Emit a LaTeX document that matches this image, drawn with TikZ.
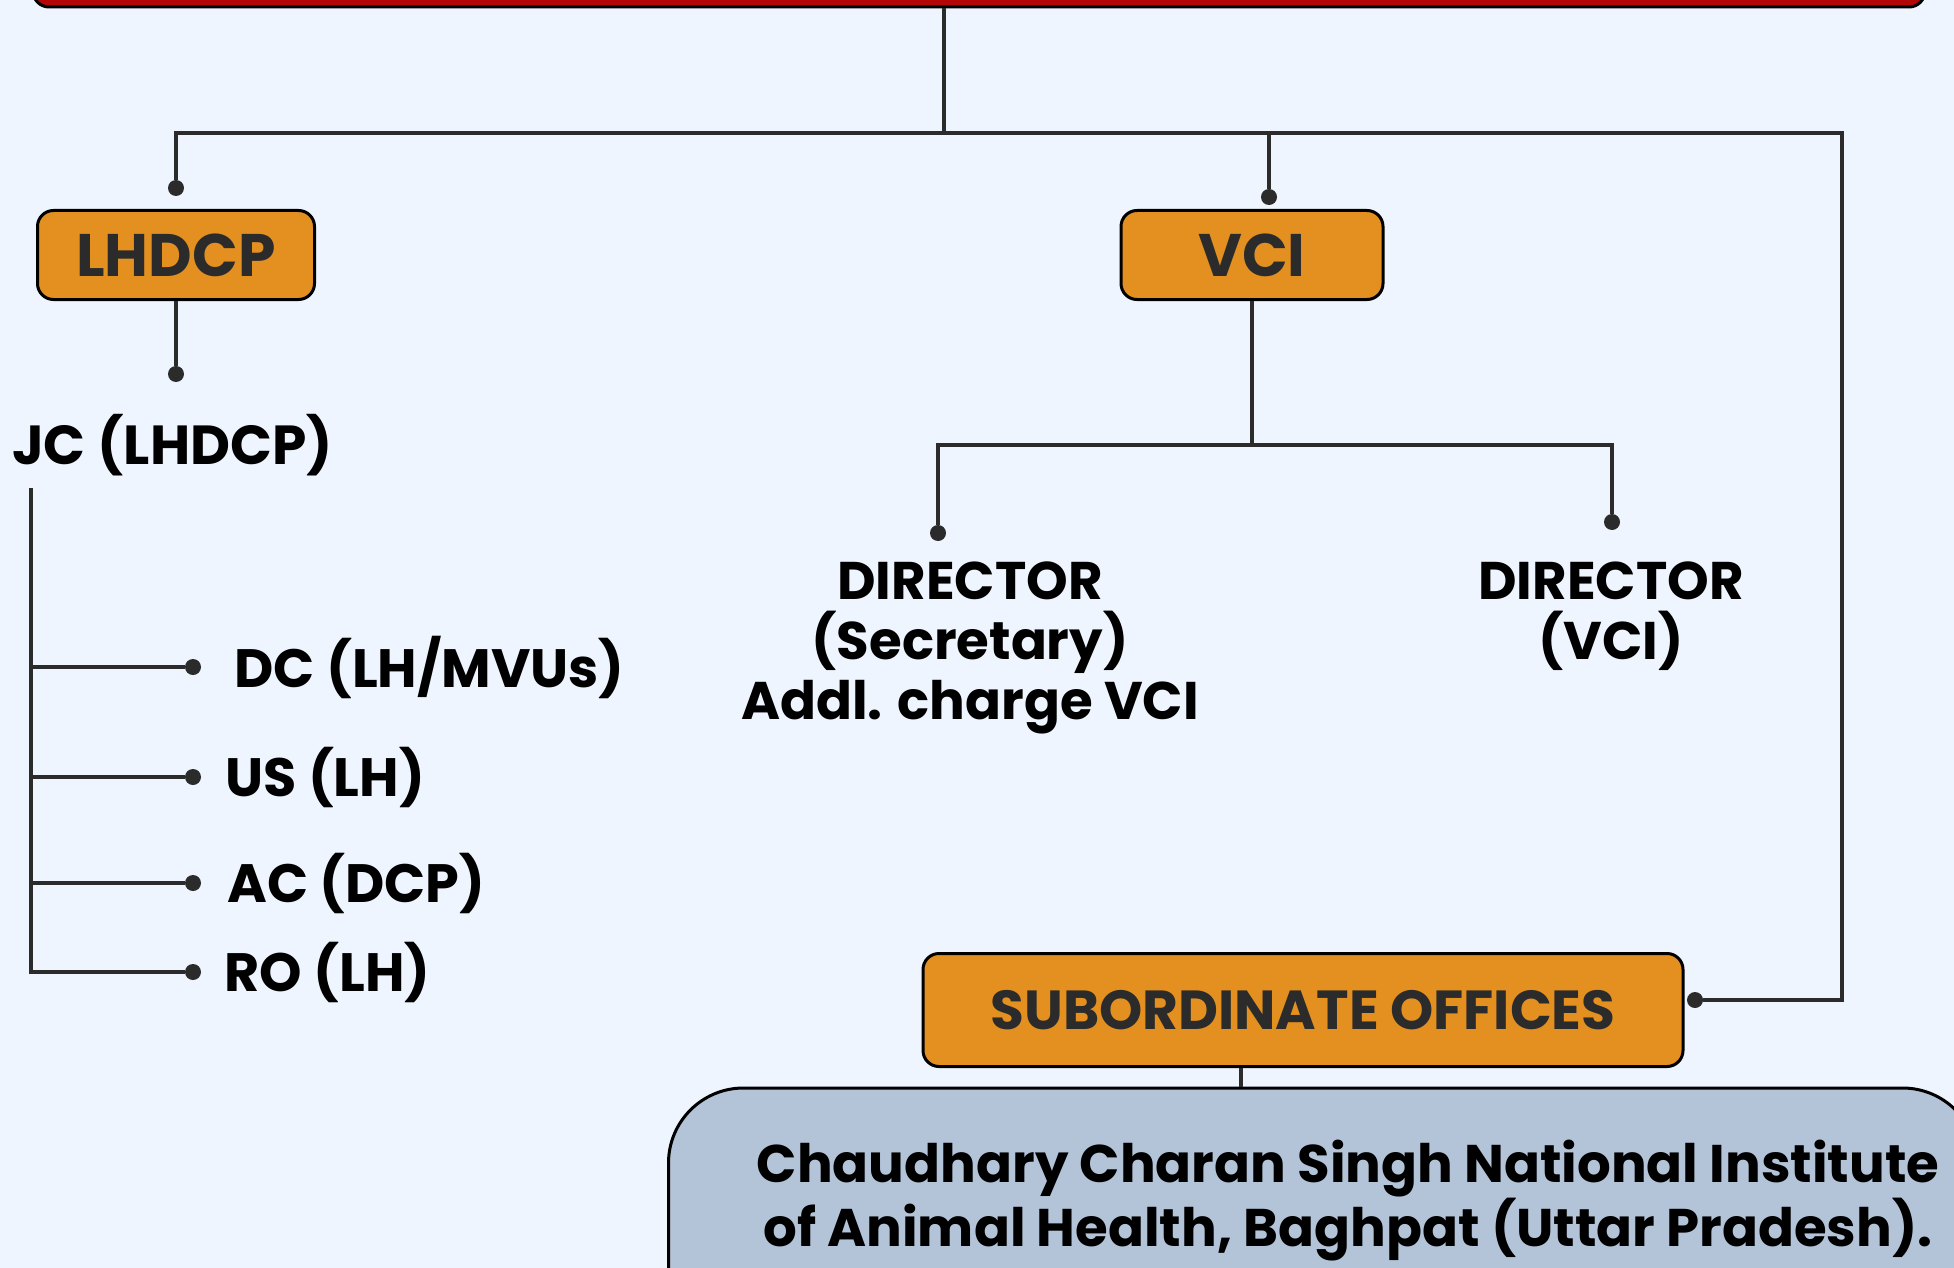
\documentclass[tikz,border=0pt]{standalone}
\usepackage{fontspec}
\setmainfont{Poppins}
\usetikzlibrary{positioning}

\definecolor{pagebg}{HTML}{EEF5FE}
\definecolor{boxorange}{HTML}{E39020}
\definecolor{boxblue}{HTML}{B4C4D8}
\definecolor{topred}{HTML}{B30606}
\definecolor{linegray}{HTML}{2B2B2B}

\tikzset{
	conn/.style={draw=linegray, line width=3.5pt},
	dot/.style={circle, fill=linegray, inner sep=0pt, minimum size=16pt},
	obox/.style={draw=black, line width=3pt, fill=boxorange, rounded corners=16pt,
		text=linegray, font=\bfseries\fontsize{60}{66}\selectfont},
	lbl/.style={inner sep=0pt, font=\bfseries\fontsize{54}{60}\selectfont},
}

\begin{document}
\begin{tikzpicture}[x=1pt,y=-1pt]
		\clip (0,0) rectangle (1954,1268);
		\fill[pagebg] (0,0) rectangle (1954,1268);
		
		\node[draw=black, line width=3pt, fill=topred, rounded corners=16pt,
			minimum width=1892pt, minimum height=110pt] (ministry) at (979,-48) {};
		
		\begin{scope}[every node/.style={dot}]
			\node (dLH) at (176,188) {};
			\node (dJC) at (176,374) {};
			\node (dVCI) at (1269,197) {};
			\node (dSub) at (1695,1000) {};
			\node (dDC) at (193,667) {};
			\node (dUS) at (193,777) {};
			\node (dAC) at (193,883) {};
			\node (dRO) at (193,972) {};
			\node (dDirA) at (938,533) {};
			\node (dDirB) at (1612,522) {};
		\end{scope}
		
		\node[obox, minimum width=277pt, minimum height=89pt] (lhdcp) at (176,255) {LHDCP};
		\node[obox, minimum width=262pt, minimum height=89pt] (vci) at (1252,255) {VCI};
		\node[obox, minimum width=760pt, minimum height=113pt,
			font=\bfseries\fontsize{55}{60}\selectfont] (sub) at (1303,1010) {SUBORDINATE OFFICES};
		\node[draw=black, line width=3pt, fill=boxblue, rounded corners=75pt,
			minimum width=1309pt, minimum height=260pt] (inst) at (1323,1218) {};
		
		\node[lbl, anchor=west, font=\bfseries\fontsize{55}{60}\selectfont] (jc) at (12,445) {JC (LHDCP)};
		\node[lbl, right=33pt of dDC] (dc) {DC (LH/MVUs)};
		\node[lbl, right=24pt of dUS] (us) {US (LH)};
		\node[lbl, right=26pt of dAC] (ac) {AC (DCP)};
		\node[lbl, right=23pt of dRO] (ro) {RO (LH)};
		\node[lbl, align=center, anchor=north, font=\bfseries\fontsize{53}{60}\selectfont]
			(dirA) at (970,562) {DIRECTOR\\(Secretary)\\Addl. charge VCI};
		\node[lbl, align=center, anchor=north, font=\bfseries\fontsize{53}{60}\selectfont]
			(dirB) at (1611,562) {DIRECTOR\\(VCI)};
		\node[lbl, align=center, font=\bfseries\fontsize{53}{58}\selectfont]
			(instlbl) at (1348,1201) {Chaudhary Charan Singh National Institute\\of Animal Health, Baghpat (Uttar Pradesh).};
		
		\coordinate (hub) at (944,133);
		\coordinate (elbow) at (1842,1000);
		\coordinate (jcbar) at (31,488);
		\coordinate (vhub) at (1252,445);
		
		\draw[conn] (ministry.south -| hub) -- (hub);
		\draw[conn] (hub) -| (dLH);
		\draw[conn] (hub) -| (dVCI);
		\draw[conn] (hub) -| (elbow) -- (dSub);
		\draw[conn] (lhdcp.south) -- (dJC);
		\foreach \d in {dDC,dUS,dAC,dRO}
			\draw[conn] (jcbar) |- (\d);
		\draw[conn] (vci.south) -- (vhub);
		\draw[conn] (vhub) -| (dDirA);
		\draw[conn] (vhub) -| (dDirB);
		\draw[conn] ([xshift=-62pt]sub.south) -- ([xshift=-62pt]sub.south |- inst.north);
\end{tikzpicture}
\end{document}
